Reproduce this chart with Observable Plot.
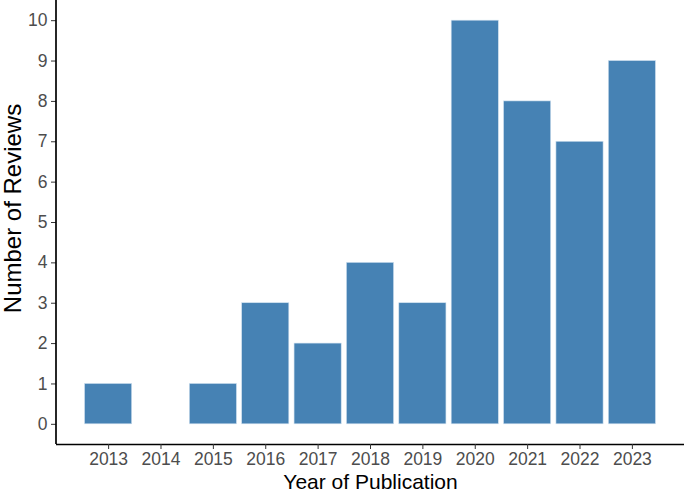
<!DOCTYPE html>
<html>
<head>
<meta charset="utf-8">
<script src="https://cdn.jsdelivr.net/npm/d3@7"></script>
<script src="https://cdn.jsdelivr.net/npm/@observablehq/plot@0.6"></script>
<style>
  html, body { margin: 0; padding: 0; background: #fff; }
  #chart { width: 685px; height: 493px; }
  svg { font-family: "Liberation Sans", Arial, Helvetica, sans-serif; }
</style>
</head>
<body>
<div id="chart"></div>
<script>
const years = ["2013","2014","2015","2016","2017","2018","2019","2020","2021","2022","2023"];
const reviews = [1, 0, 1, 3, 2, 4, 3, 10, 8, 7, 9];
const yTicks = [0,1,2,3,4,5,6,7,8,9,10];
const yDomain = [-0.5, 10.5];
const xTitle = "Year of Publication";
const yTitle = "Number of Reviews";

const data = years.map((y, i) => ({year: y, n: reviews[i]}));

const W = 685, H = 493;
const mL = 56, mR = 1, mT = 0, mB = 49;

const chart = Plot.plot({
  width: W,
  height: H,
  marginLeft: mL,
  marginRight: mR,
  marginTop: mT,
  marginBottom: mB,
  style: {fontFamily: '"Liberation Sans", Arial, sans-serif', background: "#fff"},
  x: {type: "band", domain: years, paddingInner: 0.1, paddingOuter: 0.545, align: 0.5, round: false},
  y: {domain: yDomain},
  marks: [
    Plot.barY(data, {x: "year", y: "n", fill: "#4682B4", stroke: "#cfe0ef", strokeWidth: 0.6}),
    Plot.ruleY([yDomain[0]], {stroke: "#000", strokeWidth: 1.7}),
    Plot.axisY({ticks: yTicks, tickSize: 5, tickPadding: 4, label: null, fontSize: 17.5, color: "#4D4D4D", stroke: "#333"}),
    Plot.axisX({tickSize: 5, tickPadding: 3, label: null, fontSize: 17.5, color: "#4D4D4D", stroke: "#333"}),
    Plot.text([xTitle], {frameAnchor: "bottom", dy: 37.5, fontSize: 21, fill: "#000", lineAnchor: "middle", textAnchor: "middle"}),
    Plot.text([yTitle], {frameAnchor: "left", dx: -43, dy: -14, rotate: -90, fontSize: 24, fill: "#000", lineAnchor: "middle", textAnchor: "middle"})
  ]
});

// left axis line
d3.select(chart).append("line")
  .attr("x1", mL).attr("x2", mL)
  .attr("y1", mT).attr("y2", H - mB)
  .attr("stroke", "#000").attr("stroke-width", 1.7);

document.getElementById("chart").appendChild(chart);
</script>
</body>
</html>
